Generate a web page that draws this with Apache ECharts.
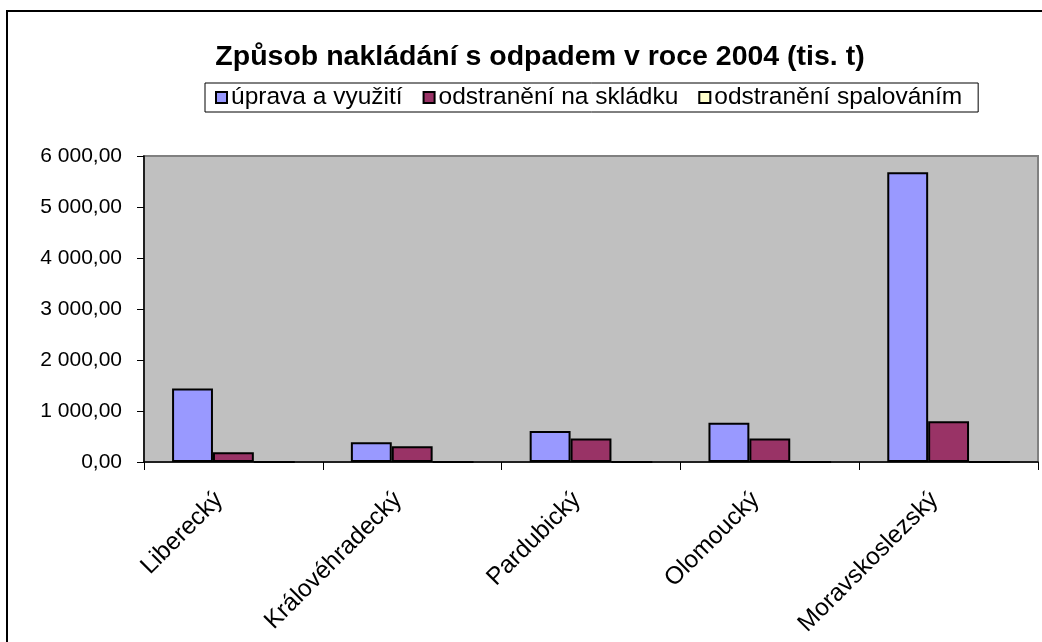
<!DOCTYPE html>
<html>
<head>
<meta charset="utf-8">
<script src="https://cdn.jsdelivr.net/npm/echarts@6/dist/echarts.min.js"></script>
<style>
html,body{margin:0;padding:0;background:#fff;}
#chart{width:1042px;height:642px;}
</style>
</head>
<body>
<div id="chart"></div>
<script>
const titleText = 'Způsob nakládání s odpadem v roce 2004 (tis. t)';
const categories = ['Liberecký', 'Královéhradecký', 'Pardubický', 'Olomoucký', 'Moravskoslezský'];
const seriesNames = ['úprava a využití', 'odstranění na skládku', 'odstranění spalováním'];
const upravaVyuziti = [1440, 385, 610, 770, 5680];
const skladka = [190, 308, 460, 460, 800];
const spalovani = [0, 0, 0, 0, 0];
const yTicks = [0, 1000, 2000, 3000, 4000, 5000, 6000];

const colors = ['#9999FF', '#993366', '#FFFFCC'];
const font = '"Liberation Sans", Arial, sans-serif';

function fmt(v) {
  const s = Math.round(v).toString().replace(/\B(?=(\d{3})+(?!\d))/g, ' ');
  return s + ',00';
}

const chart = echarts.init(document.getElementById('chart'), null, {renderer: 'canvas'});
const dataSets = [upravaVyuziti, skladka, spalovani];

chart.setOption({
  animation: false,
  backgroundColor: '#ffffff',
  title: {
    text: titleText,
    left: 535, textAlign: 'center',
    top: 38,
    textStyle: {fontFamily: font, fontSize: 28.5, fontWeight: 'bold', color: '#000'}
  },
  legend: {
    data: seriesNames,
    left: 205, top: 83,
    padding: [2, 16, 2, 10],
    itemGap: 20,
    itemWidth: 11, itemHeight: 11,
    icon: 'rect',
    borderColor: '#000', borderWidth: 1,
    textStyle: {fontFamily: font, fontSize: 24.5, color: '#000', padding: [0, 0, 0, -1]}
  },
  graphic: [{
    type: 'rect',
    shape: {x: 7, y: 11, width: 1060, height: 660},
    style: {fill: 'none', stroke: '#000', lineWidth: 2},
    silent: true, z: 100
  }],
  grid: {
    left: 144, right: 4, top: 156, bottom: 180,
    show: true, backgroundColor: '#C0C0C0', borderColor: '#808080', borderWidth: 2
  },
  xAxis: {
    type: 'category',
    data: categories,
    axisLine: {show: true, lineStyle: {color: '#000', width: 1.5}},
    axisTick: {show: true, length: 8, lineStyle: {color: '#000'}},
    axisLabel: {rotate: 45, margin: 20, padding: [0, 20, 0, 0], fontFamily: font, fontSize: 24.5, color: '#000'},
    splitLine: {show: false}
  },
  yAxis: {
    type: 'value',
    min: yTicks[0], max: yTicks[yTicks.length - 1], interval: 1000,
    axisLine: {show: true, lineStyle: {color: '#000', width: 1.5}},
    axisTick: {show: true, length: 7, lineStyle: {color: '#000'}},
    axisLabel: {formatter: fmt, margin: 22, fontFamily: font, fontSize: 21, color: '#000'},
    splitLine: {show: false}
  },
  series: seriesNames.map((name, i) => ({
    name: name,
    type: 'bar',
    data: dataSets[i],
    barGap: '0%',
    barCategoryGap: '31.4%',
    itemStyle: {color: colors[i], borderColor: '#000', borderWidth: 2}
  }))
});
</script>
</body>
</html>
